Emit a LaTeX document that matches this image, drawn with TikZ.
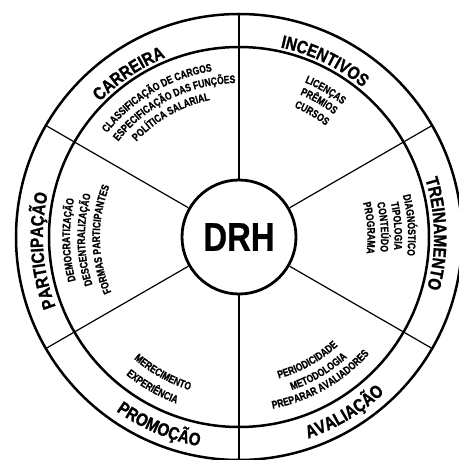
\documentclass[tikz,border=0pt]{standalone}
\usepackage{fontspec}
\setmainfont{Liberation Sans}
\newfontfamily\ringfam[FakeStretch=0.84,FakeBold=1.2]{Liberation Sans}
\newfontfamily\condfam[FakeStretch=0.78,FakeBold=0.8]{Liberation Sans}
\newfontfamily\drhfam[FakeStretch=0.82,FakeBold=0.6]{Liberation Sans}
\usetikzlibrary{decorations.text}
\newcommand\ringfont{\ringfam\bfseries\fontsize{18}{20}\selectfont}
\newcommand\listfont{\condfam\bfseries\fontsize{11}{13}\selectfont}
\newcommand\cwtext[3]{\path[decorate,decoration={text along path,text align=center,text={#3}}] ({#1+70}:#2) arc[start angle={#1+70},end angle={#1-70},radius=#2];}
\newcommand\ccwtext[3]{\path[decorate,decoration={text along path,text align=center,text={#3}}] ({#1-70}:#2) arc[start angle={#1-70},end angle={#1+70},radius=#2];}
\tikzset{
  ring/.style={line width=2.5pt},
  spoke/.style={line width=1.2pt},
  hub/.style={circle,draw,line width=2.8pt,minimum size=114pt,inner sep=0pt,
    font=\drhfam\bfseries\fontsize{40}{40}\selectfont}
}
\begin{document}
\begin{tikzpicture}
\useasboundingbox (-239pt,-223pt) rectangle (219pt,237pt);
\fill[white] (-239pt,-223pt) rectangle (219pt,237pt);
% rings
\draw[ring] (0,0) circle[radius=223pt];
\draw[ring] (0,0) circle[radius=190pt];
\node[hub] (drh) at (0,0) {DRH};
% spokes
\foreach \a in {90,30,-30,-90,-150,150}{
  \coordinate (o\a) at (\a:223pt);
  \draw[spoke] (drh) -- (o\a);
}
% ring labels
\cwtext{124}{194pt}{|\ringfont|CARREIRA}
\cwtext{64}{194pt}{|\ringfont|INCENTIVOS}
\cwtext{1}{195pt}{|\ringfont|TREINAMENTO}
\cwtext{184}{196pt}{|\ringfont|PARTICIPAÇÃO}
\ccwtext{247}{213pt}{|\ringfont|PROMOÇÃO}
\ccwtext{301}{213pt}{|\ringfont|AVALIAÇÃO}
% carreira list
\cwtext{120.5}{168pt}{|\listfont|CLASSIFICAÇÃO DE CARGOS}
\cwtext{116.5}{154pt}{|\listfont|ESPECIFICAÇÃO DAS FUNÇÕES}
\cwtext{119.5}{140pt}{|\listfont|POLÍTICA SALARIAL}
% incentivos list
\cwtext{59.5}{168pt}{|\listfont|LICENÇAS}
\cwtext{59.5}{155pt}{|\listfont|PRÊMIOS}
\cwtext{59.5}{141pt}{|\listfont|CURSOS}
% treinamento list
\cwtext{4}{169pt}{|\listfont|DIAGNÓSTICO}
\cwtext{4}{155.5pt}{|\listfont|TIPOLOGIA}
\cwtext{4}{142pt}{|\listfont|CONTEÚDO}
\cwtext{4}{128.5pt}{|\listfont|PROGRAMA}
% participacao list
\cwtext{181}{169pt}{|\listfont|DEMOCRATIZAÇÃO}
\cwtext{181}{154pt}{|\listfont|DESCENTRALIZAÇÃO}
\cwtext{181}{139pt}{|\listfont|FORMAS PARTICIPANTES}
% promocao list
\ccwtext{240.7}{161pt}{|\listfont|MERECIMENTO}
\ccwtext{240}{178pt}{|\listfont|EXPERIÊNCIA}
% avaliacao list
\ccwtext{299}{147pt}{|\listfont|PERIODICIDADE}
\ccwtext{300.5}{162pt}{|\listfont|METODOLOGIA}
\ccwtext{299.6}{175pt}{|\listfont|PREPARAR AVALIADORES}
\end{tikzpicture}
\end{document}
